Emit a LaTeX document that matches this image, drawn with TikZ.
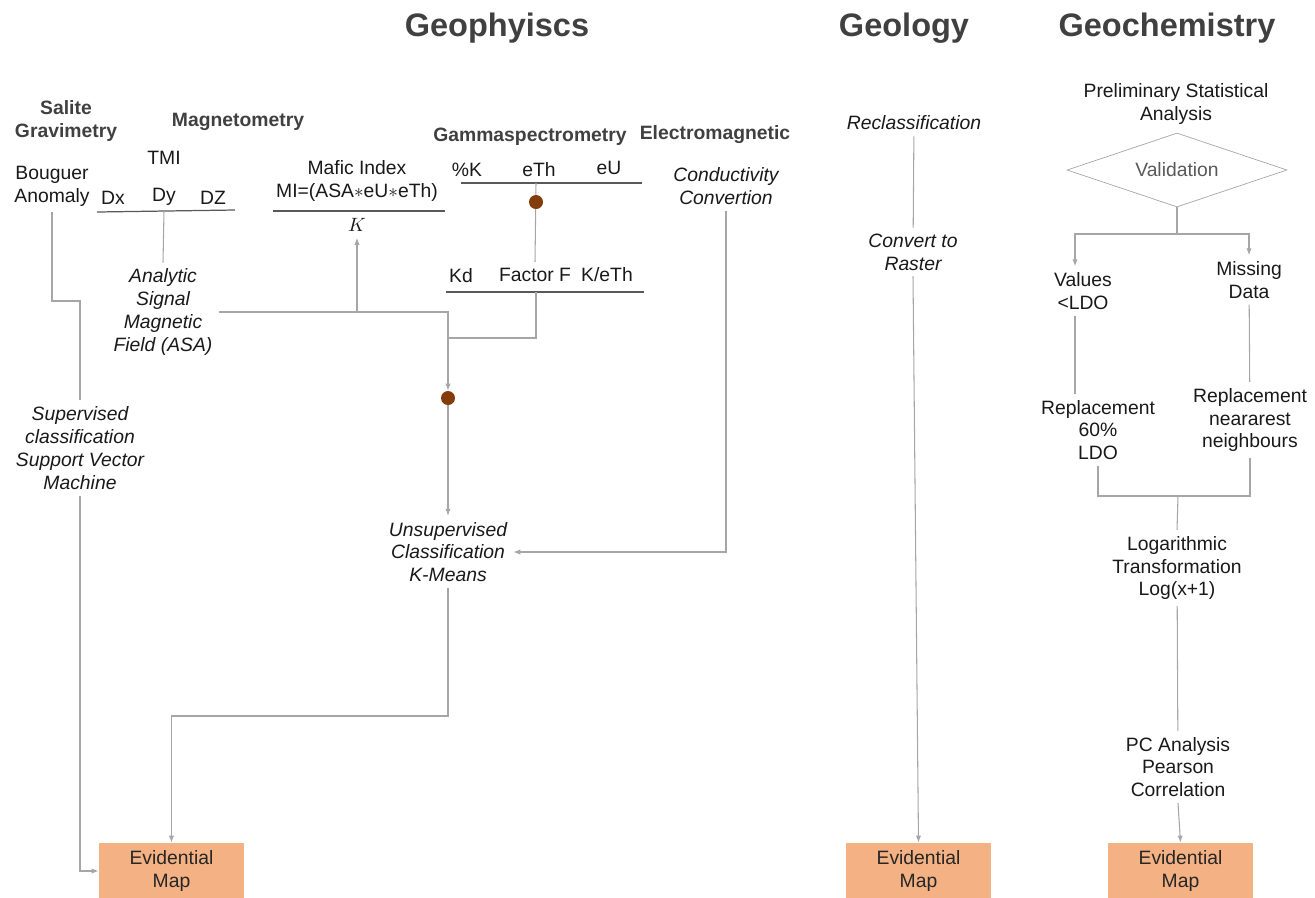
\documentclass[tikz,border=0pt]{standalone}
\usepackage{fontspec}
\setmainfont{Liberation Sans}
\usepackage{xcolor}
\usetikzlibrary{shapes.geometric}
\usetikzlibrary{arrows.meta}
\definecolor{linegray}{HTML}{A6A6A6}
\definecolor{headgray}{HTML}{404040}
\definecolor{dotbrown}{HTML}{843C0C}
\definecolor{mapfill}{HTML}{F4B183}

\begin{document}
\begin{tikzpicture}[x=0.02cm,y=-0.02cm,
  every node/.style={font=\fontsize{11}{13}\selectfont,text=black!90,align=center},
  title/.style={font=\fontsize{18.5}{22}\selectfont\bfseries,text=headgray},
  head/.style={font=\fontsize{11}{13}\selectfont\bfseries,text=headgray},
  proc/.style={font=\fontsize{11}{13}\selectfont\itshape},
  link/.style={draw=linegray,line width=0.6pt},
  rule/.style={draw=black!65,line width=0.7pt},
  blob/.style={circle,fill=dotbrown,minimum size=0.28cm,inner sep=0pt},
  evmap/.style={fill=mapfill,minimum width=2.9cm,minimum height=1.12cm,inner sep=0pt,text=black!85},
  >={Latex[length=4pt,width=3pt]}]
  \useasboundingbox (0,0) rectangle (1315,897);

  \node[title] (geophys) at (497,28) {Geophyiscs};
  \node[title] (geol) at (904,28) {Geology};
  \node[title] (geochem) at (1167,28) {Geochemistry};

  \node[head] (grav) at (66,121) {Salite\\Gravimetry};
  \node[head] (magn) at (238,122) {Magnetometry};
  \node[head] (gamma) at (530,137) {Gammaspectrometry};
  \node[head] (elec) at (715,135) {Electromagnetic};

  \node (bouguer) at (52,186) {Bouguer\\Anomaly};
  \node (tmi) at (164,158) {TMI};
  \node (dx) at (113,198) {Dx};
  \node (dy) at (164,197) {Dy};
  \node (dz) at (213,198) {DZ};
  \draw[rule] (97,212) -- (235,210);
  \coordinate (tmibar) at (164,211);

  \node (mafic) at (357,181) {Mafic Index\\MI=(ASA$\ast$eU$\ast$eTh)};
  \draw[rule] (273,211) -- (445,211);
  \node (kden) at (357,225) {$K$};

  \node (pk) at (467,170) {\%K};
  \node (eth) at (539,170) {eTh};
  \node (eu) at (609,168) {eU};
  \draw[rule] (461,183) -- (642,183);
  \coordinate (ethbar) at (536,183);
  \node (kd) at (461,276) {Kd};
  \node (ff) at (535,275) {Factor F};
  \node (keth) at (607,275) {K/eTh};
  \draw[rule] (446,292) -- (644,292);
  \coordinate (ffbar) at (536,292);

  \node[proc] (cond) at (726,186) {Conductivity\\Convertion};
  \node[proc] (asa) at (163,312) {Analytic\\Signal\\Magnetic\\Field (ASA)};
  \node[proc] (svm) at (80,448) {Supervised\\classification\\Support Vector\\Machine};
  \node[proc] (kmeans) at (448,552) {Unsupervised\\Classification\\K-Means};

  \node[evmap] (ev1) at (171.5,871) {Evidential\\Map};
  \node[evmap] (ev2) at (918.5,871) {Evidential\\Map};
  \node[evmap] (ev3) at (1180.5,871) {Evidential\\Map};

  \coordinate (bturn) at (52,301);
  \coordinate (asajoin) at (357,312);
  \coordinate (mixtop) at (448,312);
  \coordinate (ffjoin) at (448,338);
  \coordinate (kturn) at (448,716);

  \draw[link] (bouguer.south) -- (bturn) -| (svm.north);
  \draw[link,->] (svm.south) |- (ev1.west);
  \draw[link] (tmibar) -- (asa.north);
  \draw[link,->] (asajoin) -- (kden.south);
  \draw[link] (ethbar) -- (ff.north);
  \draw[link] (ffbar) |- (ffjoin);
  \node[blob] (dot1) at (536,202) {};
  \node[blob] (dot2) at (448,398) {};
  \draw[link,->] (asa.east) -- (mixtop) -- (dot2);
  \draw[link,->] (dot2) -- (kmeans.north);
  \draw[link,->] (cond.south) |- (kmeans.east);
  \draw[link,->] (kmeans.south) -- (kturn) -| (ev1.north);

  \node[proc] (recl) at (914,123) {Reclassification};
  \node[proc] (conv) at (913,252) {Convert to\\Raster};
  \draw[link] (recl) -- (conv);
  \draw[link,->] (conv.south) -- (ev2.north);

  \node (prelim) at (1176,104) {Preliminary Statistical\\Analysis};
  \node[diamond,draw=linegray,shape aspect=3,minimum width=4.4cm,minimum height=1.48cm,inner sep=0pt,text=black!65] (valid) at (1177,170) {Validation};
  \node (values) at (1083,291) {Values\\<LDO};
  \node (missing) at (1249,280) {Missing\\Data};
  \node (rep1) at (1098,430) {Replacement\\60\%\\LDO};
  \node (rep2) at (1250,420) {Replacement\\neararest\\neighbours};
  \node (logt) at (1177,568) {Logarithmic\\Transformation\\Log(x+1)};
  \node (pca) at (1178,767) {PC Analysis\\Pearson\\Correlation};

  \coordinate (vsplit) at (1177,234);
  \coordinate (vtip) at ([xshift=-0.16cm]values.north);
  \coordinate (vdrop) at ([xshift=-0.16cm]values.south);
  \coordinate (merge) at (1178,496);
  \draw[link,->] (valid.south) -- (vsplit) -| (vtip);
  \draw[link,->] (vsplit) -| (missing.north);
  \draw[link] (vdrop) -- (vdrop |- rep1.north);
  \draw[link] (missing) -- (rep2);
  \draw[link] (rep1.south) |- (merge);
  \draw[link] (rep2.south) |- (merge);
  \draw[link] (merge) -- (logt.north);
  \draw[link] (logt) -- (pca);
  \draw[link,->] (pca.south) -- (ev3.north);
\end{tikzpicture}
\end{document}
